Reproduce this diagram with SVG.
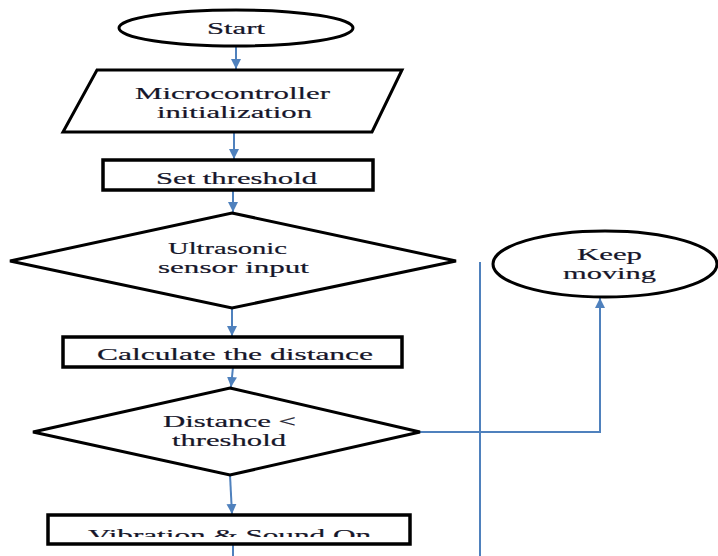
<svg xmlns="http://www.w3.org/2000/svg" width="718" height="556" viewBox="0 0 718 556">
  <style>
    .shape { fill: #ffffff; stroke: #000000; stroke-width: 3; stroke-linejoin: miter; }
    .box { fill: #ffffff; stroke: #000000; stroke-width: 3.5; }
    .label { font-family: "Liberation Serif", "Times New Roman", serif; font-size: 17.5px; fill: #16162a; stroke: #16162a; stroke-width: 0.2; text-anchor: start; }
    .wire { fill: none; stroke: #4f81bd; stroke-width: 2; }
  </style>
  <defs>
    <marker id="arrow" viewBox="0 0 10 10" refX="10" refY="5" markerWidth="10" markerHeight="13" markerUnits="userSpaceOnUse" orient="auto">
      <path d="M0,0 L10,5 L0,10 Z" fill="#4f81bd"/>
    </marker>
    <clipPath id="clip-vib">
      <rect x="50" y="517" width="358" height="20"/>
    </clipPath>
  </defs>

  <g id="connectors">
    <line class="wire" x1="236" y1="45" x2="236" y2="69" marker-end="url(#arrow)"/>
    <line class="wire" x1="234" y1="132" x2="234" y2="159" marker-end="url(#arrow)"/>
    <line class="wire" x1="233" y1="190" x2="233" y2="212" marker-end="url(#arrow)"/>
    <line class="wire" x1="232" y1="308" x2="232" y2="336" marker-end="url(#arrow)"/>
    <line class="wire" x1="233" y1="367" x2="231" y2="387" marker-end="url(#arrow)"/>
    <line class="wire" x1="230" y1="475" x2="232" y2="514" marker-end="url(#arrow)"/>
    <line class="wire" x1="233" y1="544" x2="233" y2="556"/>
    <line class="wire" x1="480" y1="262" x2="480" y2="556"/>
    <polyline class="wire" points="420,432 600,432 600,298" marker-end="url(#arrow)"/>
  </g>

  <g id="start">
    <ellipse class="shape" cx="236" cy="28" rx="117" ry="18"/>
    <text class="label" x="207" y="34" textLength="58" lengthAdjust="spacingAndGlyphs">Start</text>
  </g>

  <g id="init">
    <polygon class="shape" points="97,70 402,70 372,132 63,132" stroke-width="3.5"/>
    <text class="label" x="135" y="99" textLength="195" lengthAdjust="spacingAndGlyphs">Microcontroller</text>
    <text class="label" x="157" y="118" textLength="155" lengthAdjust="spacingAndGlyphs">initialization</text>
  </g>

  <g id="set-threshold">
    <rect class="box" x="103" y="160" width="270" height="30"/>
    <text class="label" x="156" y="184" textLength="161" lengthAdjust="spacingAndGlyphs">Set threshold</text>
  </g>

  <g id="sensor-input">
    <polygon class="shape" points="232,213 456,261 232,308 10,261"/>
    <text class="label" x="168" y="254" textLength="119" lengthAdjust="spacingAndGlyphs">Ultrasonic</text>
    <text class="label" x="158" y="273" textLength="151" lengthAdjust="spacingAndGlyphs">sensor input</text>
  </g>

  <g id="calculate">
    <rect class="box" x="63" y="337" width="339" height="30"/>
    <text class="label" x="97" y="360" textLength="276" lengthAdjust="spacingAndGlyphs">Calculate the distance</text>
  </g>

  <g id="compare">
    <polygon class="shape" points="230,388 420,432 230,475 33,432"/>
    <text class="label" x="163" y="427" textLength="133" lengthAdjust="spacingAndGlyphs">Distance &lt;</text>
    <text class="label" x="172" y="446" textLength="114" lengthAdjust="spacingAndGlyphs">threshold</text>
  </g>

  <g id="alert">
    <rect class="box" x="48" y="515" width="362" height="29"/>
    <text class="label" x="88" y="541" textLength="283" lengthAdjust="spacingAndGlyphs" clip-path="url(#clip-vib)">Vibration &amp; Sound On</text>
  </g>

  <g id="keep-moving">
    <ellipse class="shape" cx="605" cy="264" rx="112" ry="33"/>
    <text class="label" x="577" y="260" textLength="65" lengthAdjust="spacingAndGlyphs">Keep</text>
    <text class="label" x="563" y="279" textLength="93" lengthAdjust="spacingAndGlyphs">moving</text>
  </g>
</svg>
